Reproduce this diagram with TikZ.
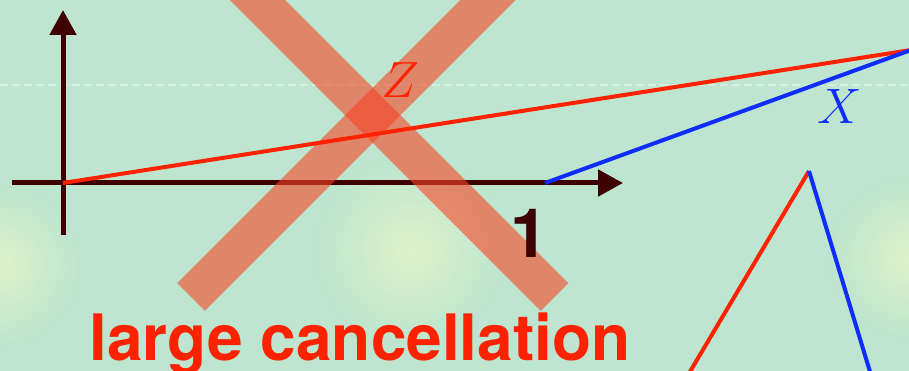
\documentclass[tikz,border=0pt]{standalone}
\usepackage{graphicx}
\usepackage{fontspec}
\newfontfamily\heros{TeX Gyre Heros}
\usetikzlibrary{arrows.meta,fadings}
\definecolor{bgmint}{RGB}{189,229,207}
\definecolor{glowy}{RGB}{228,244,202}
\definecolor{axisbrown}{RGB}{62,0,0}
\definecolor{linered}{RGB}{255,34,0}
\definecolor{lineblue}{RGB}{15,45,255}
\definecolor{crossred}{RGB}{247,69,39}
\tikzfading[name=glowfade, inner color=transparent!10, outer color=transparent!100]
\tikzset{
  axisline/.style={draw=axisbrown, line width=5pt, -{Triangle[length=25pt, width=26pt]}},
  crossbar/.style={draw=crossred, draw opacity=0.6, line width=39pt},
  redline/.style={draw=linered, line width=4pt},
  blueline/.style={draw=lineblue, line width=4pt},
  glow/.style={fill=glowy, path fading=glowfade},
  biglabel/.style={anchor=base, inner sep=0pt}
}
\begin{document}
\begin{tikzpicture}[x=1pt,y=-1pt]
\useasboundingbox (0,0) rectangle (909,371);
\clip (0,0) rectangle (909,371);
\fill[bgmint] (0,0) rectangle (909,371);
\fill[glow] (0,265) circle (80);
\fill[glow] (410,250) circle (95);
\fill[glow] (909,258) circle (80);
\draw[white, opacity=0.4, line width=1.5pt, dash pattern=on 8pt off 4pt] (0,85) -- (909,85);
% axes
\coordinate (O) at (63,183);
\coordinate (ybot) at (63,235);
\coordinate (ytop) at (63,10);
\coordinate (xleft) at (12,183);
\coordinate (xright) at (623,183);
\draw[axisline] (ybot) -- (ytop);
\draw[axisline] (xleft) -- (xright);
% cross
\coordinate (c1a) at (217.5,-40);
\coordinate (c1b) at (554.5,297);
\coordinate (c2a) at (528,-40);
\coordinate (c2b) at (191,297);
\draw[crossbar] (c1a) -- (c1b);
\draw[crossbar] (c2a) -- (c2b);
% lines
\coordinate (P) at (911,50);
\coordinate (B0) at (545,183);
\draw[redline] (O) -- (P);
\draw[blueline] (B0) -- (P);
\coordinate (peak) at (809,171);
\coordinate (rb) at (688,375);
\coordinate (bb) at (871,375);
\draw[redline] (rb) -- (peak);
\draw[blueline] (peak) -- (bb);
% labels
\node[biglabel, text=linered, font=\fontsize{24.88}{25}\selectfont] (zlab) at (400,98) {\scalebox{2.05}{$Z$}};
\node[biglabel, text=lineblue, font=\fontsize{24.88}{25}\selectfont] (xlab) at (840,124) {\scalebox{2.0}{$X$}};
\node[biglabel, text=axisbrown, font=\heros\bfseries\fontsize{68}{68}\selectfont] (one) at (529,257) {1};
\node[biglabel, text=linered, font=\heros\bfseries\fontsize{64}{64}\selectfont] (cancel) at (360,360) {large cancellation};
\end{tikzpicture}
\end{document}
